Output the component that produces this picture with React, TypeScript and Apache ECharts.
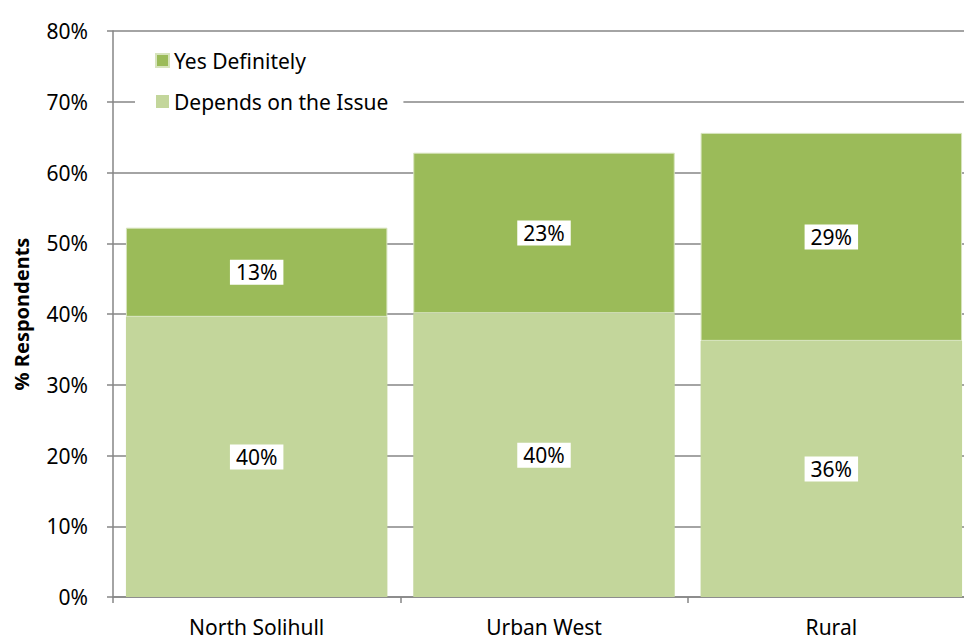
import React, { useEffect, useRef } from "react";
import * as echarts from "echarts";

const categories = ["North Solihull", "Urban West", "Rural"];
const dependsOnIssue = [39.6, 40.1, 36.2];
const yesDefinitely = [12.6, 22.7, 29.4];
const seriesNames = ["Yes Definitely", "Depends on the Issue"];
const yAxisTitle = "% Respondents";

const FONT = "'Noto Sans', sans-serif";

export default function App() {
  const ref = useRef<HTMLDivElement>(null);
  useEffect(() => {
    if (!ref.current) return;
    const chart = echarts.init(ref.current, undefined, { renderer: "svg" });
    const label = {
      show: true,
      position: "inside",
      formatter: (p: any) => Math.round(p.value) + "%",
      color: "#000",
      fontFamily: FONT,
      fontSize: 21,
      backgroundColor: "#fff",
      padding: [3, 6, 1, 6],
    };
    chart.setOption({
      animation: false,
      textStyle: { fontFamily: FONT },
      grid: {
        left: 113,
        top: 31,
        bottom: 43,
        width: 862,
        containLabel: false,
        outerBoundsMode: "none",
      },
      legend: {
        orient: "vertical",
        left: 135,
        top: 44,
        data: seriesNames,
        itemWidth: 13,
        itemHeight: 13,
        itemGap: 20,
        backgroundColor: "#fff",
        padding: [6, 15, 6, 20],
        textStyle: { fontSize: 21, color: "#000", fontFamily: FONT },
        icon: "rect",
      },
      xAxis: {
        type: "category",
        data: categories,
        axisLine: { lineStyle: { color: "#868686", width: 1.5 } },
        axisTick: { show: true, length: 6, lineStyle: { color: "#868686", width: 1.5 } },
        axisLabel: { color: "#000", fontSize: 21, margin: 19, fontFamily: FONT },
      },
      yAxis: {
        type: "value",
        min: 0,
        max: 80,
        interval: 10,
        name: yAxisTitle,
        nameLocation: "middle",
        nameGap: 82,
        nameRotate: 90,
        nameTextStyle: { fontSize: 20, fontWeight: "bold", color: "#000", fontFamily: FONT },
        axisLine: { show: true, lineStyle: { color: "#868686", width: 1.5 } },
        axisTick: { show: true, length: 6, lineStyle: { color: "#868686", width: 1.5 } },
        splitLine: { show: true, lineStyle: { color: "#868686", width: 1.5 } },
        axisLabel: {
          color: "#000",
          fontSize: 21,
          margin: 25,
          fontFamily: FONT,
          formatter: (v: number) => v + "%",
        },
      },
      series: [
        {
          name: "Depends on the Issue",
          type: "bar",
          stack: "total",
          data: dependsOnIssue,
          barCategoryGap: "9%",
          itemStyle: { color: "#C3D69B" },
          label,
        },
        {
          name: "Yes Definitely",
          type: "bar",
          stack: "total",
          data: yesDefinitely,
          barCategoryGap: "9%",
          itemStyle: { color: "#9BBB59", borderColor: "#D7E4BD", borderWidth: 1 },
          label,
        },
      ],
    });
    return () => chart.dispose();
  }, []);
  return <div ref={ref} style={{ width: 964, height: 640, position: "absolute", left: 0, top: 0 }} />;
}
